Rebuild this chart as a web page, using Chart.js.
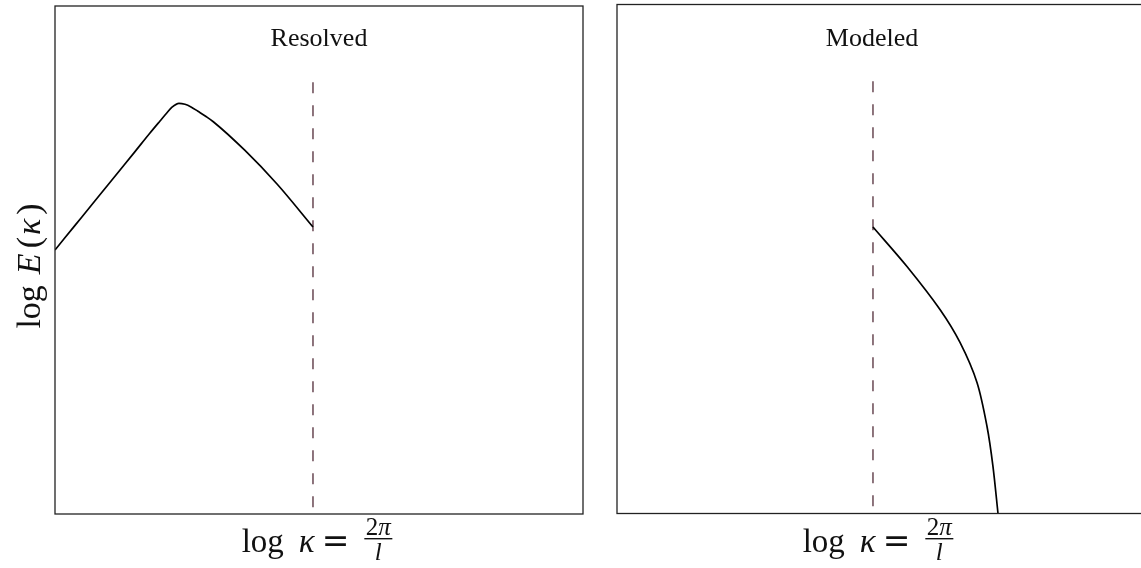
<!DOCTYPE html>
<html>
<head>
<meta charset="utf-8">
<script src="https://cdn.jsdelivr.net/npm/chart.js@4.4.1/dist/chart.umd.min.js"></script>
<style>
  html, body { margin: 0; padding: 0; background: #ffffff; overflow: hidden; width: 1141px; height: 568px; }
  canvas { position: absolute; top: 0; }
  #resolved { left: 0; }
  #modeled { left: 600px; }
</style>
</head>
<body>
<canvas id="resolved" width="600" height="568"></canvas>
<canvas id="modeled" width="560" height="568"></canvas>
<script>
// Energy spectrum sketch: log E(kappa) against log kappa, in arbitrary units (0..10 on both axes).
const resolvedK = [0, 0.379, 0.758, 1.136, 1.515, 1.799, 1.989, 2.121, 2.216, 2.348, 2.462, 2.576,
                   2.708, 2.860, 2.998, 3.598, 4.205, 4.886];
const resolvedE = [5.197, 5.681, 6.165, 6.650, 7.134, 7.500, 7.736, 7.898, 8.008, 8.085, 8.065, 8.014,
                   7.927, 7.825, 7.722, 7.156, 6.496, 5.650];

const modeledK = [4.848, 5.492, 6.117, 6.496, 6.818, 7.008, 7.121, 7.216];
const modeledE = [5.629, 4.853, 4.008, 3.360, 2.574, 1.709, 0.923, 0];

// Grid cutoff (filter width) marked by a dashed vertical line
const cutoffResolved = 4.886;
const cutoffModeled = 4.848;
const cutoffTop = [8.50, 8.49];

const panelTitles = ['Resolved', 'Modeled'];

const SERIF = '"Liberation Serif", "DejaVu Serif", serif';

function pts(xs, ys) { return xs.map((x, i) => ({ x: x, y: ys[i] })); }

// Draw a row of text runs (each with its own font) centred on cx
function drawRuns(ctx, runs, cx, baseline) {
  let total = 0;
  runs.forEach(r => { ctx.font = r.font; r.w = r.width !== undefined ? r.width : ctx.measureText(r.text).width; total += r.w + (r.gap || 0); });
  let x = cx - total / 2;
  runs.forEach(r => {
    x += (r.gap || 0);
    if (r.draw) { r.draw(ctx, x, baseline); }
    else { ctx.font = r.font; ctx.fillText(r.text, x, baseline); }
    x += r.w;
  });
}

function kappaLabelRuns(ctx) {
  const big = '33px ' + SERIF;
  const bigIt = 'italic 33px ' + SERIF;
  const eq = '33px "DejaVu Serif", serif';
  const small = '25px ' + SERIF;
  const smallIt = 'italic 25px ' + SERIF;
  ctx.font = small; const w2 = ctx.measureText('2').width;
  ctx.font = smallIt; const wpi = ctx.measureText('π').width;
  const fracW = w2 + wpi + 3;
  return [
    { text: 'log', font: big },
    { text: 'κ', font: bigIt, gap: 15 },
    { text: '=', font: eq, gap: 7 },
    { text: '', font: big, gap: 15, width: fracW, draw: (c, x, b) => {
        c.font = small; c.fillText('2', x + 1.5, b - 17);
        c.font = smallIt; c.fillText('π', x + 1.5 + w2, b - 17);
        c.fillRect(x, b - 14, fracW, 1.4);
        c.font = smallIt;
        const wl = c.measureText('l').width;
        c.fillText('l', x + fracW / 2 - wl / 2, b + 8);
      } }
  ];
}

const annotate = {
  id: 'annotate',
  afterDraw(chart, args, opts) {
    const ctx = chart.ctx;
    const a = chart.chartArea;
    ctx.save();
    // panel frame
    ctx.strokeStyle = '#222222';
    ctx.lineWidth = 1.3;
    ctx.strokeRect(a.left, a.top, a.right - a.left, a.bottom - a.top);
    ctx.fillStyle = '#111111';
    ctx.textBaseline = 'alphabetic';
    // panel title inside the frame
    ctx.font = '26px ' + SERIF;
    ctx.textAlign = 'center';
    ctx.fillText(opts.title, chart.scales.x.getPixelForValue(opts.titleX), 46);
    ctx.textAlign = 'left';
    // x-axis label
    drawRuns(ctx, kappaLabelRuns(ctx), (a.left + a.right) / 2 + opts.xLabelShift, 552);
    // y-axis label (only on the first panel)
    if (opts.yLabel) {
      ctx.save();
      ctx.translate(40, 266);
      ctx.rotate(-Math.PI / 2);
      drawRuns(ctx, [
        { text: 'log', font: '34px ' + SERIF },
        { text: 'E', font: 'italic 34px ' + SERIF, gap: 11 },
        { text: '(', font: '34px ' + SERIF, gap: 5 },
        { text: 'κ', font: 'italic 34px ' + SERIF, gap: 2 },
        { text: ')', font: '34px ' + SERIF, gap: 4 }
      ], 0, 0);
      ctx.restore();
    }
    ctx.restore();
  }
};

function makePanel(id, curveK, curveE, cutoff, top, padding, opts) {
  const curve = {
    data: pts(curveK, curveE),
    borderColor: '#000000',
    borderWidth: 1.7,
    pointRadius: 0,
    fill: false
  };
  if (opts.monotone) { curve.cubicInterpolationMode = 'monotone'; }
  else { curve.tension = opts.tension; }
  return new Chart(document.getElementById(id), {
    type: 'line',
    data: {
      datasets: [
        curve,
        {
          data: [{ x: cutoff, y: top }, { x: cutoff, y: 0 }],
          borderColor: '#684752',
          borderWidth: 1.5,
          borderDash: [11, 12],
          pointRadius: 0,
          fill: false
        }
      ]
    },
    options: {
      responsive: false,
      animation: false,
      devicePixelRatio: 1,
      layout: { padding: padding },
      plugins: { legend: { display: false }, tooltip: { enabled: false }, annotate: opts },
      scales: {
        x: { type: 'linear', min: 0, max: 10, display: false },
        y: { type: 'linear', min: 0, max: 10, display: false }
      }
    },
    plugins: [annotate]
  });
}

makePanel('resolved', resolvedK, resolvedE, cutoffResolved, cutoffTop[0],
  { left: 55, top: 6, right: 17, bottom: 54 },
  { title: panelTitles[0], titleX: 5.0, xLabelShift: -2, yLabel: true, monotone: true });

makePanel('modeled', modeledK, modeledE, cutoffModeled, cutoffTop[1],
  { left: 17, top: 4.5, right: 15, bottom: 54.5 },
  { title: panelTitles[1], titleX: 4.83, xLabelShift: -3, yLabel: false, tension: 0.3 });
</script>
</body>
</html>
